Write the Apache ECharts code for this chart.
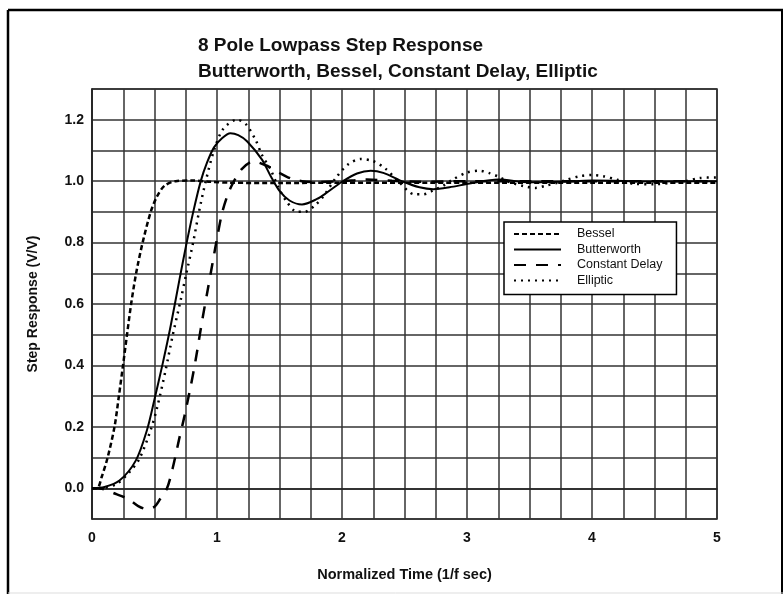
<!DOCTYPE html>
<html>
<head>
<meta charset="utf-8">
<script src="https://cdn.jsdelivr.net/npm/echarts@6/dist/echarts.min.js"></script>
<style>
html,body{margin:0;padding:0;background:#fff;}
#chart{width:784px;height:595px;}
</style>
</head>
<body>
<div id="chart"></div>
<script>
// ---- data ----
const titleLines = ["8 Pole Lowpass Step Response", "Butterworth, Bessel, Constant Delay, Elliptic"];
const xAxisName = "Normalized Time (1/f sec)";
const yAxisName = "Step Response (V/V)";
const seriesNames = ["Bessel", "Butterworth", "Constant Delay", "Elliptic"];

const besselT = [0, 0.04, 0.08, 0.125, 0.18, 0.215, 0.248, 0.28, 0.313, 0.353, 0.405, 0.47, 0.52, 0.58, 0.67, 0.8, 0.95, 1.1, 1.5, 2, 3, 4, 5];
const besselV = [0, 0, 0.04, 0.1, 0.2, 0.3, 0.4, 0.5, 0.6, 0.7, 0.8, 0.9, 0.95, 0.985, 1.0, 1.002, 0.998, 0.995, 0.994, 0.995, 0.995, 0.995, 0.995];

const butterT = [0, 0.1, 0.22, 0.35, 0.44, 0.5, 0.565, 0.63, 0.70, 0.755, 0.81, 0.87, 0.92, 0.976, 1.04, 1.107, 1.17, 1.24, 1.36, 1.43, 1.5, 1.58, 1.68, 1.8, 1.88, 2.0, 2.12, 2.23, 2.33, 2.49, 2.62, 2.73, 2.86, 3.02, 3.25, 3.5, 3.75, 4.0, 4.5, 5];
const butterV = [0, 0.004, 0.025, 0.09, 0.19, 0.29, 0.405, 0.53, 0.68, 0.795, 0.9, 1.0, 1.06, 1.11, 1.14, 1.156, 1.15, 1.13, 1.07, 1.016, 0.968, 0.937, 0.924, 0.942, 0.963, 0.998, 1.025, 1.034, 1.027, 0.998, 0.98, 0.974, 0.98, 0.992, 1.005, 0.996, 0.998, 1.002, 0.999, 1.0];

const delayT = [0, 0.05, 0.2, 0.29, 0.37, 0.44, 0.5, 0.545, 0.6, 0.644, 0.697, 0.737, 0.79, 0.83, 0.883, 0.923, 0.963, 1.003, 1.043, 1.09, 1.136, 1.2, 1.29, 1.41, 1.5, 1.6, 1.68, 1.8, 2.0, 2.2, 2.4, 2.6, 3, 3.5, 4, 4.5, 5];
const delayV = [0, 0, -0.02, -0.035, -0.058, -0.068, -0.06, -0.035, 0.0, 0.063, 0.16, 0.23, 0.333, 0.42, 0.55, 0.64, 0.73, 0.82, 0.9, 0.96, 1.0, 1.04, 1.064, 1.048, 1.027, 1.007, 1.0, 0.997, 1.0, 1.005, 1.001, 0.998, 1.0, 1.0, 1.0, 1.0, 1.0];

const ellipT = [0, 0.1, 0.2, 0.298, 0.378, 0.471, 0.524, 0.59, 0.644, 0.71, 0.755, 0.809, 0.856, 0.91, 0.976, 1.05, 1.16, 1.23, 1.31, 1.36, 1.43, 1.49, 1.56, 1.64, 1.70, 1.78, 1.85, 1.95, 2.05, 2.15, 2.25, 2.35, 2.45, 2.58, 2.65, 2.73, 2.81, 2.89, 3.0, 3.1, 3.18, 3.25, 3.34, 3.45, 3.55, 3.63, 3.74, 3.8, 3.9, 4.0, 4.09, 4.2, 4.33, 4.5, 4.65, 4.75, 4.86, 5.0];
const ellipV = [0, 0.002, 0.015, 0.052, 0.095, 0.192, 0.268, 0.387, 0.495, 0.614, 0.70, 0.8, 0.9, 1.0, 1.1, 1.17, 1.2, 1.186, 1.133, 1.085, 1.037, 0.98, 0.932, 0.9, 0.9, 0.92, 0.95, 1.01, 1.055, 1.072, 1.065, 1.04, 1.0, 0.957, 0.957, 0.97, 0.985, 1.006, 1.028, 1.034, 1.026, 1.015, 0.997, 0.984, 0.978, 0.985, 0.997, 1.005, 1.016, 1.02, 1.016, 1.005, 0.992, 0.99, 0.995, 1.0, 1.01, 1.012];

const xMin = 0, xMax = 5, xStep = 0.25;
const yMin = -0.1, yMax = 1.3, yStep = 0.1;

// ---- build ----
const pair = (t, v) => t.map((x, i) => [x, v[i]]);
const FONT = "'Liberation Sans', Arial, Helvetica, sans-serif";
const chart = echarts.init(document.getElementById('chart'), null, {renderer: 'canvas'});

function line(name, t, v, type, width) {
  return {
    name: name, type: 'line', data: pair(t, v), symbol: 'none', smooth: 0.3,
    lineStyle: {color: '#000', width: width, type: type},
    itemStyle: {color: '#000'}, animation: false
  };
}

chart.setOption({
  backgroundColor: '#fff',
  animation: false,
  title: {
    text: titleLines.join('\n'),
    left: 193, top: 28,
    textStyle: {fontFamily: FONT, fontSize: 19, fontWeight: 'bold', color: '#111', lineHeight: 26}
  },
  graphic: [
    {type: 'line', shape: {x1: 8, y1: 10, x2: 783, y2: 10}, style: {stroke: '#000', lineWidth: 2.5}},
    {type: 'line', shape: {x1: 8, y1: 10, x2: 8, y2: 594}, style: {stroke: '#000', lineWidth: 2.5}},
    {type: 'line', shape: {x1: 782, y1: 10, x2: 782, y2: 594}, style: {stroke: '#000', lineWidth: 2}},
    {type: 'line', shape: {x1: 8, y1: 593, x2: 783, y2: 593}, style: {stroke: '#ddd', lineWidth: 1}}
  ],
  legend: {
    orient: 'vertical',
    left: 504, top: 222,
    data: seriesNames,
    itemWidth: 47, itemHeight: 10, itemGap: 1.5,
    padding: [5, 14, 7, 9],
    backgroundColor: '#fff',
    borderColor: '#000', borderWidth: 1.5,
    itemStyle: {color: 'transparent', borderWidth: 0, opacity: 0},
    textStyle: {fontFamily: FONT, fontSize: 12.5, color: '#111', lineHeight: 14, padding: [0, 0, 0, 11]}
  },
  grid: {
    left: 92, top: 89, width: 625, height: 430,
    show: true, borderColor: '#222', borderWidth: 1.5, backgroundColor: 'transparent'
  },
  xAxis: {
    type: 'value', min: xMin, max: xMax, interval: xStep,
    name: xAxisName, nameLocation: 'middle', nameGap: 48,
    nameTextStyle: {fontFamily: FONT, fontSize: 14.5, fontWeight: 'bold', color: '#111'},
    axisLine: {show: true, lineStyle: {color: '#222', width: 1.5}},
    axisTick: {show: false},
    splitLine: {show: true, lineStyle: {color: '#333', width: 1.5}},
    axisLabel: {
      interval: 0, margin: 12, fontFamily: FONT, fontSize: 14, fontWeight: 'bold', color: '#111',
      formatter: v => { const r = Math.round(v * 1000) / 1000; return Number.isInteger(r) ? String(r) : ''; }
    }
  },
  yAxis: {
    type: 'value', min: yMin, max: yMax, interval: yStep,
    name: yAxisName, nameLocation: 'middle', nameGap: 52,
    nameTextStyle: {fontFamily: FONT, fontSize: 14, fontWeight: 'bold', color: '#111'},
    axisLine: {show: true, lineStyle: {color: '#222', width: 1.5}},
    axisTick: {show: false},
    splitLine: {show: true, lineStyle: {color: '#333', width: 1.5}},
    axisLabel: {
      interval: 0, margin: 8, fontFamily: FONT, fontSize: 14, fontWeight: 'bold', color: '#111',
      formatter: v => { const k = Math.round(v * 10); return (k >= 0 && k <= 12 && k % 2 === 0) ? (k / 10).toFixed(1) : ''; }
    }
  },
  series: [
    line(seriesNames[0], besselT, besselV, [5, 3], 2.5),
    line(seriesNames[1], butterT, butterV, 'solid', 2),
    line(seriesNames[2], delayT, delayV, [12, 10], 2.5),
    line(seriesNames[3], ellipT, ellipV, [2, 5], 2.5)
  ]
});
</script>
</body>
</html>
